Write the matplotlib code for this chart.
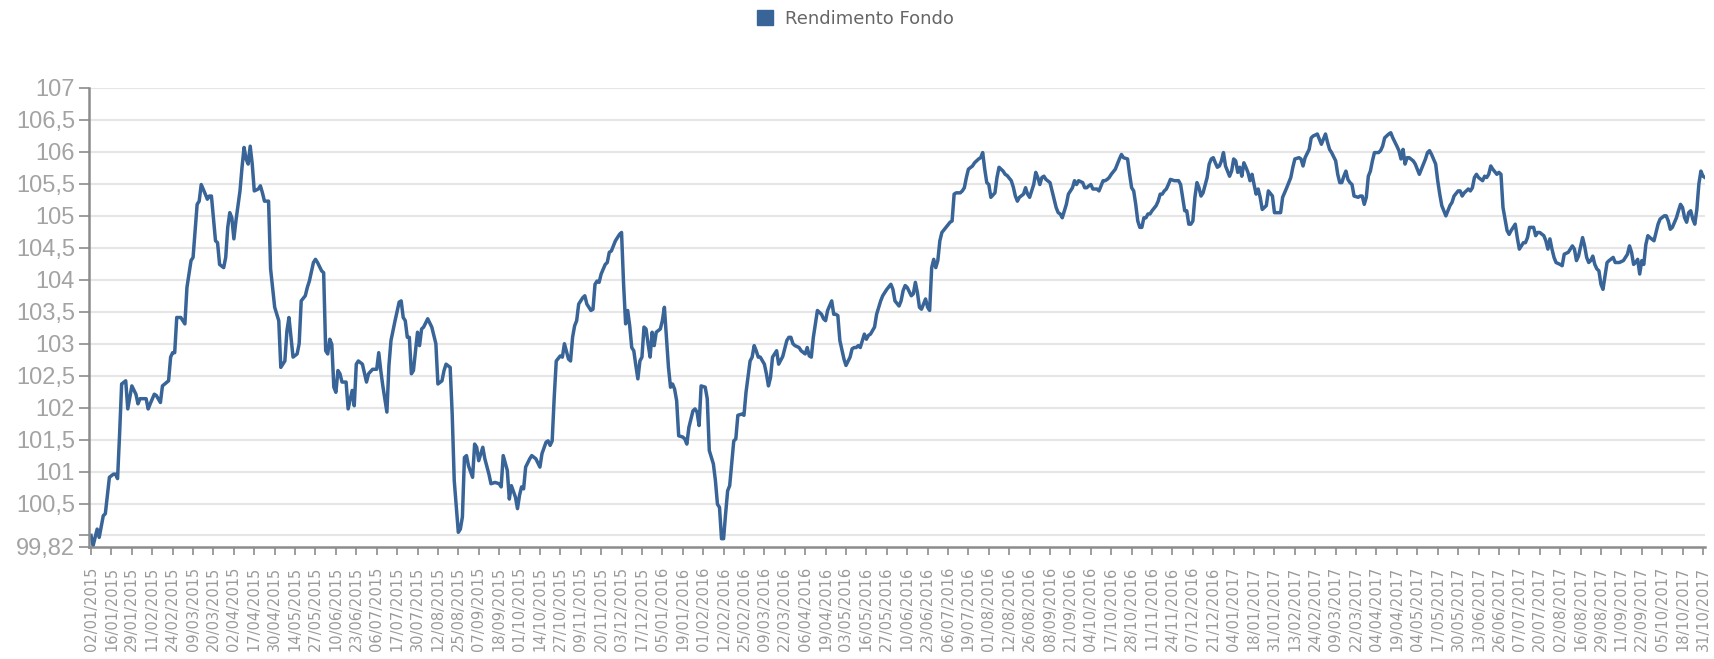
import matplotlib
matplotlib.use("Agg")
import matplotlib.pyplot as plt
from matplotlib.patches import Patch

# trading-day index (0 = 02/01/2015) and fund value
day = [0, 1, 3, 4, 6, 7, 9, 11, 12, 13, 14, 15, 17, 18, 19, 20, 22, 23, 24, 25,
       27, 28, 29, 31, 32, 34, 35, 38, 39, 40, 41, 42, 44, 46, 47, 49, 50, 52, 53, 54,
       56, 57, 58, 59, 61, 62, 63, 65, 66, 67, 68, 69, 70, 71, 73, 74, 75, 76, 77, 78,
       79, 80, 82, 83, 84, 85, 87, 88, 90, 92, 93, 95, 96, 97, 99, 101, 102, 103, 105, 106,
       107, 109, 110, 111, 113, 114, 115, 116, 117, 118, 119, 120, 121, 122, 123, 125, 126, 128, 129, 130,
       131, 133, 135, 136, 138, 140, 141, 142, 143, 145, 146, 147, 149, 151, 152, 153, 154, 155, 156, 157,
       158, 160, 161, 162, 163, 165, 167, 169, 170, 172, 173, 174, 176, 177, 178, 180, 181, 182, 183, 184,
       185, 187, 188, 189, 190, 192, 193, 195, 196, 198, 200, 201, 202, 204, 205, 206, 208, 209, 210, 211,
       212, 213, 215, 216, 218, 220, 221, 223, 224, 225, 226, 227, 228, 230, 231, 232, 234, 235, 236, 237,
       238, 239, 241, 242, 243, 245, 246, 247, 248, 249, 250, 252, 253, 254, 255, 257, 258, 259, 260, 261,
       262, 263, 264, 265, 266, 267, 268, 269, 270, 271, 272, 273, 274, 275, 276, 277, 279, 280, 281, 282,
       283, 284, 285, 286, 287, 288, 290, 291, 292, 293, 295, 296, 297, 298, 299, 301, 302, 303, 305, 306,
       307, 308, 309, 310, 311, 312, 313, 315, 316, 317, 319, 320, 321, 323, 324, 325, 326, 327, 328, 330,
       331, 332, 333, 334, 335, 336, 337, 339, 341, 342, 343, 344, 345, 347, 348, 350, 351, 352, 353, 354,
       356, 358, 359, 360, 361, 363, 364, 365, 366, 367, 369, 370, 372, 373, 374, 375, 376, 377, 379, 380,
       381, 382, 384, 385, 387, 388, 390, 392, 393, 394, 396, 397, 398, 399, 400, 402, 403, 404, 405, 406,
       407, 409, 410, 411, 412, 413, 414, 415, 416, 417, 419, 421, 422, 423, 424, 426, 427, 428, 429, 430,
       432, 433, 434, 435, 436, 437, 438, 439, 440, 441, 443, 444, 445, 447, 448, 449, 451, 452, 453, 454,
       455, 457, 458, 459, 460, 462, 463, 464, 465, 466, 467, 468, 470, 471, 473, 474, 475, 476, 478, 479,
       480, 481, 482, 483, 484, 486, 487, 488, 489, 490, 491, 493, 494, 496, 497, 498, 499, 500, 502, 503,
       504, 505, 506, 508, 509, 510, 511, 512, 513, 514, 515, 516, 517, 518, 519, 520, 522, 523, 524, 525,
       526, 527, 528, 529, 531, 532, 533, 534, 535, 536, 537, 538, 539, 540, 541, 542, 543, 544, 545, 547,
       548, 549, 550, 551, 552, 553, 554, 555, 556, 558, 559, 560, 561, 562, 563, 564, 565, 566, 567, 568,
       569, 570, 571, 572, 573, 574, 576, 577, 579, 580, 581, 583, 584, 586, 588, 589, 590, 592, 593, 594,
       595, 597, 598, 599, 601, 602, 603, 604, 605, 606, 607, 608, 610, 611, 612, 613, 614, 615, 616, 617,
       618, 619, 621, 622, 623, 624, 625, 626, 627, 628, 629, 631, 632, 633, 634, 635, 636, 637, 638, 640,
       641, 642, 643, 644, 645, 646, 648, 649, 650, 651, 652, 654, 655, 656, 657, 659, 660, 661, 662, 664,
       665, 666, 667, 668, 670, 671, 672, 673, 674, 675, 676, 677, 678, 679, 680, 682, 683, 684, 685, 686,
       687, 689, 690, 691, 692, 694, 695, 696, 697, 698, 699, 700, 702, 703, 704, 705, 707, 708, 709, 710,
       712, 713, 714, 715, 716, 717, 718, 720, 721, 722, 724, 725, 726, 727, 728, 729, 731, 732, 733, 734,
       735, 736, 737, 738, 739, 740, 741, 742, 743, 744, 746, 747, 748, 749, 751, 752, 753, 754, 755, 756,
       757, 758, 759, 760, 761, 762, 763, 764, 766, 767, 768, 769, 771, 772, 773, 774, 775, 777, 778, 779,
       780, 781, 782, 783, 784, 785, 786, 787, 788, 789, 790, 791]

nav = [100.00, 99.84, 100.10, 99.97, 100.31, 100.34, 100.91, 100.96, 100.96, 100.89, 101.59, 102.37, 102.42, 101.98, 102.16, 102.34, 102.21, 102.06, 102.14, 102.14,
       102.14, 101.98, 102.06, 102.21, 102.19, 102.08, 102.34, 102.42, 102.79, 102.86, 102.86, 103.41, 103.41, 103.31, 103.88, 104.30, 104.35, 105.18, 105.23, 105.49,
       105.34, 105.26, 105.31, 105.31, 104.61, 104.58, 104.24, 104.19, 104.35, 104.82, 105.05, 104.97, 104.64, 104.92, 105.39, 105.76, 106.07, 105.89, 105.81, 106.09,
       105.81, 105.39, 105.42, 105.47, 105.36, 105.23, 105.23, 104.17, 103.57, 103.36, 102.63, 102.73, 103.20, 103.41, 102.79, 102.84, 103.00, 103.67, 103.75, 103.88,
       103.98, 104.27, 104.32, 104.27, 104.14, 104.11, 102.89, 102.84, 103.07, 102.99, 102.32, 102.24, 102.58, 102.53, 102.40, 102.40, 101.98, 102.27, 102.03, 102.68,
       102.73, 102.68, 102.40, 102.53, 102.60, 102.60, 102.86, 102.58, 102.34, 101.93, 102.66, 103.05, 103.36, 103.65, 103.67, 103.41, 103.36, 103.10, 103.10, 102.53,
       102.58, 103.18, 102.97, 103.23, 103.26, 103.39, 103.26, 103.00, 102.37, 102.42, 102.58, 102.68, 102.63, 101.90, 100.86, 100.05, 100.10, 100.29, 101.22, 101.25,
       101.09, 100.91, 101.43, 101.38, 101.17, 101.38, 101.20, 100.96, 100.81, 100.83, 100.81, 100.76, 101.25, 101.02, 100.57, 100.78, 100.60, 100.42, 100.63, 100.76,
       100.73, 101.07, 101.20, 101.25, 101.20, 101.07, 101.28, 101.46, 101.48, 101.41, 101.48, 102.16, 102.73, 102.81, 102.79, 103.00, 102.76, 102.73, 103.10, 103.28,
       103.36, 103.62, 103.72, 103.75, 103.62, 103.52, 103.54, 103.93, 103.98, 103.96, 104.09, 104.24, 104.27, 104.43, 104.45, 104.61, 104.66, 104.71, 104.74, 103.93,
       103.31, 103.52, 103.28, 102.94, 102.89, 102.66, 102.45, 102.73, 102.79, 103.26, 103.23, 103.00, 102.79, 103.18, 102.97, 103.18, 103.23, 103.36, 103.57, 103.10,
       102.63, 102.32, 102.37, 102.29, 102.11, 101.56, 101.54, 101.51, 101.43, 101.69, 101.95, 101.98, 101.93, 101.72, 102.34, 102.32, 102.14, 101.33, 101.12, 100.86,
       100.49, 100.44, 99.95, 99.95, 100.34, 100.70, 100.78, 101.48, 101.51, 101.88, 101.90, 101.88, 102.24, 102.73, 102.79, 102.97, 102.89, 102.79, 102.79, 102.68,
       102.53, 102.34, 102.47, 102.79, 102.84, 102.89, 102.68, 102.80, 103.05, 103.10, 103.10, 103.00, 102.97, 102.94, 102.89, 102.84, 102.94, 102.81, 102.79, 103.10,
       103.52, 103.46, 103.39, 103.36, 103.52, 103.67, 103.46, 103.46, 103.44, 103.05, 102.76, 102.66, 102.79, 102.92, 102.94, 102.94, 102.97, 102.94, 103.15, 103.07,
       103.13, 103.15, 103.26, 103.46, 103.67, 103.75, 103.85, 103.93, 103.85, 103.67, 103.59, 103.67, 103.83, 103.91, 103.88, 103.75, 103.78, 103.96, 103.80, 103.57,
       103.54, 103.70, 103.57, 103.52, 104.19, 104.32, 104.19, 104.30, 104.61, 104.74, 104.82, 104.90, 104.92, 105.34, 105.36, 105.36, 105.39, 105.44, 105.60, 105.73,
       105.78, 105.83, 105.86, 105.89, 105.91, 105.99, 105.73, 105.52, 105.49, 105.29, 105.36, 105.60, 105.76, 105.70, 105.65, 105.63, 105.55, 105.45, 105.31, 105.23,
       105.29, 105.34, 105.44, 105.34, 105.29, 105.49, 105.68, 105.60, 105.49, 105.60, 105.62, 105.57, 105.52, 105.39, 105.13, 105.05, 105.03, 104.97, 105.18, 105.34,
       105.39, 105.44, 105.55, 105.49, 105.55, 105.52, 105.44, 105.44, 105.47, 105.49, 105.42, 105.42, 105.39, 105.55, 105.55, 105.57, 105.60, 105.65, 105.73, 105.81,
       105.89, 105.96, 105.91, 105.89, 105.65, 105.44, 105.39, 105.18, 104.92, 104.82, 104.82, 104.97, 104.97, 105.03, 105.03, 105.08, 105.16, 105.23, 105.34, 105.34,
       105.39, 105.42, 105.49, 105.57, 105.55, 105.55, 105.55, 105.49, 105.29, 105.08, 105.08, 104.87, 104.87, 104.92, 105.29, 105.52, 105.44, 105.31, 105.36, 105.60,
       105.81, 105.89, 105.91, 105.83, 105.76, 105.78, 105.86, 105.99, 105.78, 105.62, 105.70, 105.89, 105.86, 105.68, 105.76, 105.62, 105.83, 105.76, 105.68, 105.55,
       105.65, 105.49, 105.34, 105.42, 105.29, 105.10, 105.16, 105.39, 105.31, 105.05, 105.05, 105.05, 105.29, 105.44, 105.60, 105.76, 105.89, 105.91, 105.89, 105.78,
       105.91, 106.04, 106.22, 106.25, 106.28, 106.20, 106.12, 106.20, 106.28, 106.15, 106.04, 105.99, 105.86, 105.65, 105.52, 105.52, 105.62, 105.70, 105.57, 105.52,
       105.49, 105.31, 105.29, 105.31, 105.31, 105.18, 105.29, 105.62, 105.70, 105.86, 105.99, 105.99, 106.02, 106.09, 106.22, 106.25, 106.28, 106.30, 106.22, 106.09,
       106.02, 105.89, 106.04, 105.81, 105.91, 105.91, 105.86, 105.81, 105.73, 105.65, 105.73, 105.89, 105.99, 106.02, 105.96, 105.81, 105.55, 105.34, 105.16, 105.00,
       105.08, 105.16, 105.21, 105.31, 105.39, 105.39, 105.31, 105.36, 105.39, 105.42, 105.39, 105.44, 105.60, 105.65, 105.60, 105.55, 105.62, 105.60, 105.65, 105.78,
       105.73, 105.65, 105.68, 105.65, 105.13, 104.77, 104.71, 104.77, 104.82, 104.87, 104.66, 104.48, 104.58, 104.58, 104.66, 104.82, 104.82, 104.69, 104.74, 104.74,
       104.69, 104.61, 104.48, 104.64, 104.48, 104.35, 104.27, 104.24, 104.22, 104.40, 104.43, 104.48, 104.53, 104.48, 104.30, 104.37, 104.66, 104.53, 104.35, 104.27,
       104.30, 104.37, 104.24, 104.17, 104.14, 103.93, 103.85, 104.06, 104.27, 104.30, 104.35, 104.27, 104.27, 104.27, 104.30, 104.35, 104.40, 104.53, 104.43, 104.24,
       104.27, 104.32, 104.09, 104.30, 104.24, 104.55, 104.69, 104.66, 104.61, 104.74, 104.87, 104.95, 105.00, 105.00, 104.92, 104.79, 104.82, 104.97, 105.08, 105.18,
       105.13, 104.97, 104.90, 105.05, 105.08, 104.95, 104.87, 105.10, 105.50, 105.70, 105.62, 105.60]

tick_labels = [
    "02/01/2015", "16/01/2015", "29/01/2015", "11/02/2015", "24/02/2015", "09/03/2015", "20/03/2015", "02/04/2015",
    "17/04/2015", "30/04/2015", "14/05/2015", "27/05/2015", "10/06/2015", "23/06/2015", "06/07/2015", "17/07/2015",
    "30/07/2015", "12/08/2015", "25/08/2015", "07/09/2015", "18/09/2015", "01/10/2015", "14/10/2015", "27/10/2015",
    "09/11/2015", "20/11/2015", "03/12/2015", "17/12/2015", "05/01/2016", "19/01/2016", "01/02/2016", "12/02/2016",
    "25/02/2016", "09/03/2016", "22/03/2016", "06/04/2016", "19/04/2016", "03/05/2016", "16/05/2016", "27/05/2016",
    "10/06/2016", "23/06/2016", "06/07/2016", "19/07/2016", "01/08/2016", "12/08/2016", "26/08/2016", "08/09/2016",
    "21/09/2016", "04/10/2016", "17/10/2016", "28/10/2016", "11/11/2016", "24/11/2016", "07/12/2016", "21/12/2016",
    "04/01/2017", "18/01/2017", "31/01/2017", "13/02/2017", "24/02/2017", "09/03/2017", "22/03/2017", "04/04/2017",
    "19/04/2017", "04/05/2017", "17/05/2017", "30/05/2017", "13/06/2017", "26/06/2017", "07/07/2017", "20/07/2017",
    "02/08/2017", "16/08/2017", "29/08/2017", "11/09/2017", "22/09/2017", "05/10/2017", "18/10/2017", "31/10/2017",
]
tick_step = 10  # one label every 10 trading days

y_ticks = [99.82, 100, 100.5, 101, 101.5, 102, 102.5, 103, 103.5, 104, 104.5, 105, 105.5, 106, 106.5, 107]
y_labels = ["99,82", "", "100,5", "101", "101,5", "102", "102,5", "103", "103,5", "104",
            "104,5", "105", "105,5", "106", "106,5", "107"]

line_color = "#386497"
axis_color = "#8c8c8c"

fig = plt.figure(figsize=(17.15, 6.59), dpi=100)
ax = fig.add_axes([89 / 1715, 1 - 547 / 659, 1616 / 1715, 459 / 659])

ax.plot(day, nav, color=line_color, lw=2.5, solid_joinstyle="round")

ax.set_xlim(-1, 791)
ax.set_ylim(99.82, 107)

ax.set_xticks(range(0, len(tick_labels) * tick_step, tick_step))
ax.set_xticklabels(tick_labels, rotation=90, fontsize=10.5, color="#9a9a9a",
                   family="DejaVu Sans")
ax.set_yticks(y_ticks)
ax.set_yticklabels(y_labels, fontsize=17, color="#a3a3a3", family="Liberation Sans")

ax.tick_params(axis="x", length=6, width=1.2, color=axis_color, pad=8)
ax.tick_params(axis="y", length=7, width=1.2, color=axis_color, pad=3)

for v in y_ticks[1:]:
    ax.axhline(v, color="#e6e6e6", lw=1.5, zorder=0)

for s in ["top", "right"]:
    ax.spines[s].set_visible(False)
for s in ["left", "bottom"]:
    ax.spines[s].set_color(axis_color)
    ax.spines[s].set_linewidth(1.8)

handle = Patch(facecolor=line_color, edgecolor=line_color)
fig.legend(handles=[handle], labels=["Rendimento Fondo"], loc="center",
           bbox_to_anchor=(0.4988, 1 - 19 / 659), frameon=False,
           handlelength=0.9, handleheight=0.9, handletextpad=0.7,
           prop={"family": "DejaVu Sans", "size": 13}, labelcolor="#666666")

fig.savefig("out.png", dpi=100)
